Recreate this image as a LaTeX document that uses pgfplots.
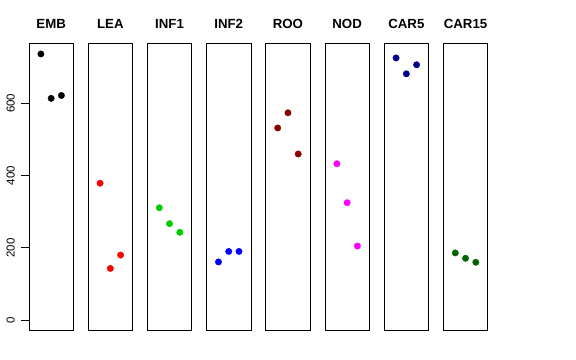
\documentclass[border=0pt]{standalone}
\usepackage{pgfplots}
\pgfplotsset{compat=1.18}
\usepackage{fontspec}
\setmainfont{Liberation Sans}
\definecolor{greenthree}{HTML}{00CD00}
\definecolor{rdark}{HTML}{8B0000}
\definecolor{bdark}{HTML}{00008B}
\definecolor{gdark}{HTML}{006400}
\definecolor{magentaR}{HTML}{FF00FF}
\definecolor{redR}{HTML}{FF0000}
\definecolor{blueR}{HTML}{0000FF}
\pgfplotsset{panel/.style={scale only axis, width=44.3bp, height=287.4bp,
  xmin=-0.16, xmax=4.16, ymin=-29.5, ymax=766.5, xtick=\empty, ytick=\empty,
  axis line style={line width=0.8bp}, anchor=north west,
  title style={font=\bfseries\fontsize{13.3}{13.3}\selectfont, at={(0.5,1)}, anchor=base, yshift=9.3bp}},
  pts/.style={only marks, mark=*, mark size=3.2bp, color=#1, mark options={draw=#1, fill=#1}}}
\begin{document}
\begin{tikzpicture}
\path[use as bounding box] (0bp,0bp) rectangle (576bp,-360bp);
\begin{axis}[panel, at={(29bp,-43.3bp)}, title={EMB},
  ytick={0,200,400,600}, ytick pos=left, tick align=outside, major tick length=8bp,
  tick style={line width=0.8bp, black},
  /pgf/number format/assume math mode=true,
  yticklabel style={font=\fontsize{11.5}{11.5}\selectfont, xshift=-6bp, rotate=90, anchor=south, inner sep=0pt}]
\addplot[pts=black] coordinates {(1,737) (2,614) (3,622)};
\end{axis}
\begin{axis}[panel, at={(88.2bp,-43.3bp)}, title={LEA}]
\addplot[pts=redR] coordinates {(1,379) (2,143) (3,180)};
\end{axis}
\begin{axis}[panel, at={(147.4bp,-43.3bp)}, title={INF1}]
\addplot[pts=greenthree] coordinates {(1,311) (2,267) (3,243)};
\end{axis}
\begin{axis}[panel, at={(206.6bp,-43.3bp)}, title={INF2}]
\addplot[pts=blueR] coordinates {(1,161) (2,190) (3,190)};
\end{axis}
\begin{axis}[panel, at={(265.8bp,-43.3bp)}, title={ROO}]
\addplot[pts=rdark] coordinates {(1,532) (2,574) (3,460)};
\end{axis}
\begin{axis}[panel, at={(325bp,-43.3bp)}, title={NOD}]
\addplot[pts=magentaR] coordinates {(1,433) (2,325) (3,205)};
\end{axis}
\begin{axis}[panel, at={(384.2bp,-43.3bp)}, title={CAR5}]
\addplot[pts=bdark] coordinates {(1,726) (2,682) (3,707)};
\end{axis}
\begin{axis}[panel, at={(443.4bp,-43.3bp)}, title={CAR15}]
\addplot[pts=gdark] coordinates {(1,186) (2,171) (3,160)};
\end{axis}
\end{tikzpicture}
\end{document}
